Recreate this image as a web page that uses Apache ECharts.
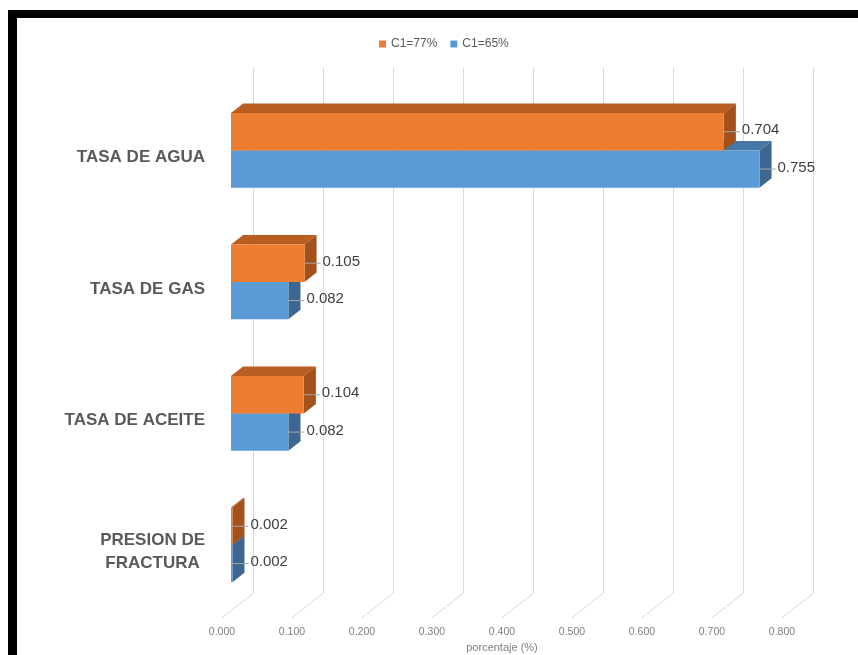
<!DOCTYPE html>
<html>
<head>
<meta charset="utf-8">
<script src="https://cdn.jsdelivr.net/npm/echarts@6/dist/echarts.min.js"></script>
<style>
  html, body { margin: 0; padding: 0; background: #fff; overflow: hidden; }
  #frame {
    position: absolute; left: 8px; top: 10px; width: 900px; height: 700px;
    border-top: 8px solid #000; border-left: 9px solid #000;
  }
  #chart { position: absolute; left: 0; top: 0; width: 858px; height: 655px; }
</style>
</head>
<body>
<div id="frame"></div>
<div id="chart"></div>
<script>
// datos
const categories = ['TASA DE AGUA', 'TASA DE GAS', 'TASA DE ACEITE', 'PRESION DE\nFRACTURA']
const seriesNames = ['C1=77%', 'C1=65%']
const valuesC77 = [0.704, 0.105, 0.104, 0.002]
const valuesC65 = [0.755, 0.082, 0.082, 0.002]
const tickValues = [0, 0.1, 0.2, 0.3, 0.4, 0.5, 0.6, 0.7, 0.8]

// colores: frente, cara superior, cara lateral
const faces = [
  { front: '#ED7D31', top: '#BA5D20', side: '#A3521C' },
  { front: '#5B9BD5', top: '#4677A6', side: '#3D6690' },
]

// vector de profundidad (efecto 3D estilo Excel)
const DEPTH = [31, -24.3]
const BAR_Z0 = 0.29
const BAR_Z1 = 0.68
const BAR_FRAC = 0.284

const FONT = 'Liberation Sans, Arial, sans-serif'

const chart = echarts.init(document.getElementById('chart'))

const barRender = (idx) => (params, api) => {
  const val = api.value(0)
  const cat = api.value(1)
  const base = api.coord([0, cat])
  const end = api.coord([val, cat])
  const band = api.size([0, 1])[1]
  const h = band * BAR_FRAC
  const ox = DEPTH[0] * BAR_Z0
  const oy = DEPTH[1] * BAR_Z0
  const dx = DEPTH[0] * (BAR_Z1 - BAR_Z0)
  const dy = DEPTH[1] * (BAR_Z1 - BAR_Z0)
  const x0 = base[0] + ox
  const x1 = end[0] + ox
  const y0 = base[1] + (idx === 0 ? -h : 0) + oy
  const y1 = y0 + h
  const c = faces[idx]
  const ym = (y0 + y1) / 2
  return {
    type: 'group',
    children: [
      { type: 'polygon', shape: { points: [[x0, y0], [x1, y0], [x1 + dx, y0 + dy], [x0 + dx, y0 + dy]] }, style: { fill: c.top } },
      { type: 'polygon', shape: { points: [[x1, y0], [x1 + dx, y0 + dy], [x1 + dx, y1 + dy], [x1, y1]] }, style: { fill: c.side } },
      { type: 'rect', shape: { x: x0, y: y0, width: Math.max(x1 - x0, 0), height: h }, style: { fill: c.front } },
      { type: 'line', shape: { x1: x1, y1: ym, x2: x1 + 16, y2: ym }, style: { stroke: '#a6a6a6', lineWidth: 1 } },
      {
        type: 'text',
        style: {
          text: val.toFixed(3), x: x1 + 18, y: ym - 1.5,
          fill: '#404040', fontSize: 15, fontFamily: FONT,
          align: 'left', verticalAlign: 'middle',
        },
      },
    ],
  }
}

const option = {
  animation: false,
  legend: {
    data: seriesNames,
    left: 374,
    top: 33,
    icon: 'rect',
    itemWidth: 7,
    itemHeight: 7,
    itemGap: 13,
    textStyle: { color: '#595959', fontSize: 12, fontFamily: FONT },
  },
  grid: [
    // plano frontal
    { left: 222, top: 91.7, width: 560, height: 526, outerBoundsMode: 'none' },
    // pared del fondo
    { left: 253, top: 67.4, width: 560, height: 526, outerBoundsMode: 'none' },
  ],
  xAxis: [
    {
      gridIndex: 0,
      type: 'value',
      min: 0,
      max: 0.8,
      interval: 0.1,
      axisLine: { show: false },
      axisTick: { show: false },
      splitLine: { show: false },
      axisLabel: {
        margin: 9,
        color: '#7f7f7f',
        fontSize: 10.5,
        fontFamily: FONT,
        formatter: (v) => v.toFixed(3),
      },
      name: 'porcentaje (%)',
      nameLocation: 'middle',
      nameGap: 21,
      nameTextStyle: { color: '#7f7f7f', fontSize: 11, fontFamily: FONT },
    },
    {
      gridIndex: 1,
      type: 'value',
      min: 0,
      max: 0.8,
      interval: 0.1,
      axisLine: { show: false },
      axisTick: { show: false },
      axisLabel: { show: false },
      splitLine: { show: true, lineStyle: { color: '#d9d9d9', width: 1 } },
    },
  ],
  yAxis: [
    {
      gridIndex: 0,
      type: 'category',
      inverse: true,
      data: categories,
      axisLine: { show: false },
      axisTick: { show: false },
      axisLabel: {
        margin: 17,
        formatter: (v) => v.split('\n').map((s) => `{c|${s}}`).join('\n'),
        rich: {
          c: { align: 'center', fontSize: 17, fontWeight: 'bold', color: '#595959', fontFamily: FONT, lineHeight: 23 },
        },
      },
    },
    {
      gridIndex: 1,
      type: 'category',
      inverse: true,
      data: categories,
      show: false,
    },
  ],
  series: [
    // lineas del piso
    {
      type: 'custom',
      xAxisIndex: 0,
      yAxisIndex: 0,
      silent: true,
      z: 1,
      data: tickValues.map((v) => [v, 0]),
      encode: { x: 0, y: 1 },
      renderItem: (params, api) => {
        const x = api.coord([api.value(0), 0])[0]
        const bottom = params.coordSys.y + params.coordSys.height
        return {
          type: 'line',
          shape: { x1: x, y1: bottom, x2: x + DEPTH[0], y2: bottom + DEPTH[1] },
          style: { stroke: '#d9d9d9', lineWidth: 1 },
        }
      },
    },
    {
      name: seriesNames[1],
      type: 'custom',
      xAxisIndex: 0,
      yAxisIndex: 0,
      z: 3,
      itemStyle: { color: faces[1].front },
      data: valuesC65.map((v, i) => [v, i]),
      encode: { x: 0, y: 1 },
      renderItem: barRender(1),
    },
    {
      name: seriesNames[0],
      type: 'custom',
      xAxisIndex: 0,
      yAxisIndex: 0,
      z: 4,
      itemStyle: { color: faces[0].front },
      data: valuesC77.map((v, i) => [v, i]),
      encode: { x: 0, y: 1 },
      renderItem: barRender(0),
    },
  ],
}

chart.setOption(option)
</script>
</body>
</html>
